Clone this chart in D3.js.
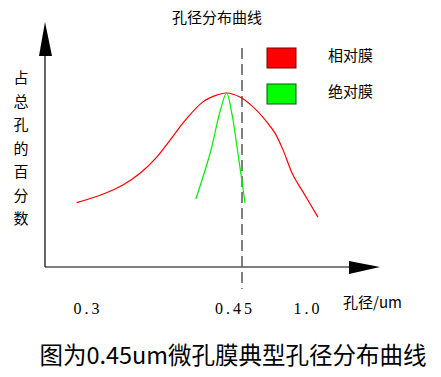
<!DOCTYPE html>
<html>
<head>
<meta charset="utf-8">
<script src="https://cdn.jsdelivr.net/npm/d3@7"></script>
<style>
  body { margin: 0; background: #fff; }
  svg { display: block; }
  text { font-family: "Noto Sans CJK SC", sans-serif; fill: #000; }
</style>
</head>
<body>
<div id="chart"></div>
<script>
var w = 441; // width
var h = 377; // height

// tick positions (pore size, um) and their labels
var tickValues = [0.3, 0.45, 1.0];
var tickLabels = ["0.3", "0.45", "1.0"];

// relative membrane curve: [pore size um, percent]
var relSize = [0.289, 0.315, 0.334, 0.351, 0.367, 0.380, 0.395, 0.412, 0.426, 0.435, 0.448, 0.542, 0.658, 0.725, 0.792, 0.875, 0.958, 1.083];
var relPct  = [26.8, 30.4, 34.2, 39.2, 45.8, 52.9, 61.3, 68.8, 71.7, 72.5, 70.8, 66.7, 60.4, 55.8, 48.8, 38.3, 31.3, 20.8];

// absolute membrane curve
var absSize = [0.405, 0.419, 0.429, 0.435, 0.440, 0.446, 0.475];
var absPct  = [28.3, 47.5, 65.4, 72.5, 64.2, 47.5, 26.7];

var legendNames = ["相对膜", "绝对膜"];
var legendColors = ["#ff0000", "#00ff00"];
var legendStrokes = ["#7a0000", "#005a00"];

var yLabel = "占总孔的百分数";

var svg = d3.select("#chart").append("svg")
    .attr("width", w)
    .attr("height", h);

// pore size axis is not to scale in the original, so use a piecewise scale
var xScale = d3.scaleLinear()
    .domain([0.3, 0.45, 1.0])
    .range([88, 242, 308]);

var yScale = d3.scaleLinear()
    .domain([0, 100])
    .range([267, 27]);

var x0 = 45, y0 = 267;

// axes lines
svg.append("line").attr("x1", x0).attr("y1", y0).attr("x2", x0).attr("y2", 50)
    .attr("stroke", "#000").attr("stroke-width", 1.2);
svg.append("line").attr("x1", x0).attr("y1", y0).attr("x2", 355).attr("y2", y0)
    .attr("stroke", "#000").attr("stroke-width", 1.2);
// arrow heads
svg.append("path").attr("d", "M" + x0 + ",22 L39,56 L52,56 Z").attr("fill", "#000");
svg.append("path").attr("d", "M380," + y0 + " L349,261 L349,274 Z").attr("fill", "#000");

// dashed reference at 0.45
svg.append("line")
    .attr("x1", xScale(0.45)).attr("x2", xScale(0.45))
    .attr("y1", 48).attr("y2", 289)
    .attr("stroke", "#555").attr("stroke-width", 1.5)
    .attr("stroke-dasharray", "11,5");

var line = d3.line()
    .x(function(d) { return xScale(d[0]); })
    .y(function(d) { return yScale(d[1]); })
    .curve(d3.curveCatmullRom.alpha(0.5));

svg.append("path")
    .datum(relSize.map(function(s, i) { return [s, relPct[i]]; }))
    .attr("d", line)
    .attr("fill", "none")
    .attr("stroke", "#ff0000")
    .attr("stroke-width", 1.2);

svg.append("path")
    .datum(absSize.map(function(s, i) { return [s, absPct[i]]; }))
    .attr("d", line)
    .attr("fill", "none")
    .attr("stroke", "#00ee00")
    .attr("stroke-width", 1.2);

// tick labels (the 0.45 label sits a bit left of the dashed line)
svg.selectAll(".tick-label")
    .data(tickValues)
    .enter()
    .append("text")
    .attr("class", "tick-label")
    .attr("x", function(d) { return xScale(d); })
    .attr("dx", function(d) { return d === 0.45 ? -7 : 0; })
    .attr("y", 314)
    .attr("text-anchor", "middle")
    .style("font-family", "'Liberation Serif', serif")
    .style("font-size", "16px")
    .style("letter-spacing", "3px")
    .text(function(d, i) { return tickLabels[i]; });

svg.append("text")
    .attr("x", 343).attr("y", 308)
    .style("font-size", "15px")
    .text("孔径/um");

// y label, vertical
svg.selectAll(".ylab")
    .data(yLabel.split(""))
    .enter()
    .append("text")
    .attr("class", "ylab")
    .attr("x", 21)
    .attr("y", function(d, i) { return 83 + i * 23.5; })
    .attr("text-anchor", "middle")
    .style("font-size", "15px")
    .text(function(d) { return d; });

// title
svg.append("text")
    .attr("x", 217).attr("y", 23)
    .attr("text-anchor", "middle")
    .style("font-size", "15px")
    .text("孔径分布曲线");

// legend
var legend = svg.selectAll(".legend")
    .data(legendNames)
    .enter()
    .append("g")
    .attr("class", "legend")
    .attr("transform", function(d, i) { return "translate(267," + (48 + i * 36) + ")"; });

legend.append("rect")
    .attr("width", 29).attr("height", 20)
    .attr("fill", function(d, i) { return legendColors[i]; })
    .attr("stroke", function(d, i) { return legendStrokes[i]; })
    .attr("stroke-width", 1);

legend.append("text")
    .attr("x", 61).attr("y", 13)
    .style("font-size", "15px")
    .text(function(d) { return d; });

// caption
svg.append("text")
    .attr("x", 233).attr("y", 364)
    .attr("text-anchor", "middle")
    .style("font-size", "23.5px")
    .text("图为0.45um微孔膜典型孔径分布曲线");
</script>
</body>
</html>
